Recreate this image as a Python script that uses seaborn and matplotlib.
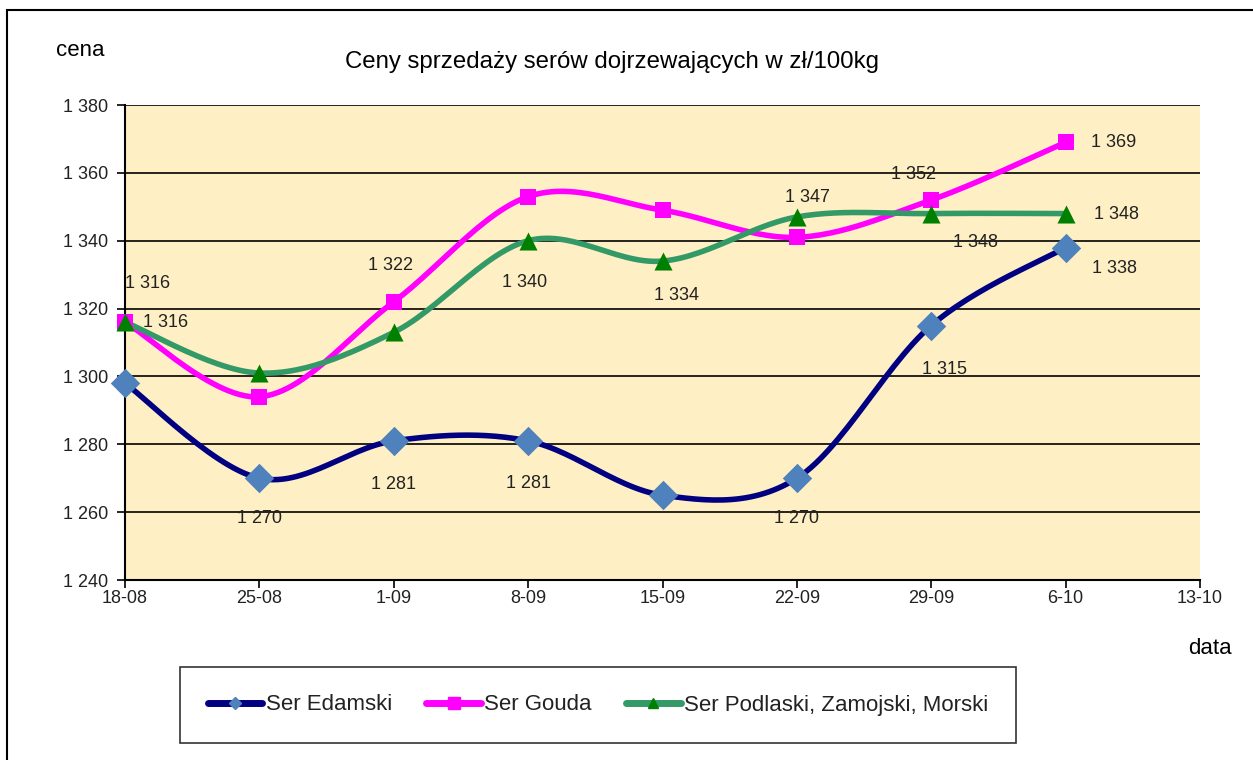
import numpy as np
import pandas as pd
import matplotlib
matplotlib.use("Agg")
import matplotlib.pyplot as plt
import seaborn as sns
from matplotlib.patches import Rectangle
from matplotlib.lines import Line2D

# --- DATI ---
dates = ["18-08", "25-08", "1-09", "8-09", "15-09", "22-09", "29-09", "6-10", "13-10"]
edamski = [1298, 1270, 1281, 1281, 1265, 1270, 1315, 1338]
gouda = [1316, 1294, 1322, 1353, 1349, 1341, 1352, 1369]
podlaski = [1316, 1301, 1313, 1340, 1334, 1347, 1348, 1348]
series_names = ["Ser Edamski", "Ser Gouda", "Ser Podlaski, Zamojski, Morski"]

# etichette visibili: (indice, offset in pixel)
labels_edamski = [(1, (0, -40)), (2, (0, -44)), (3, (0, -43)), (5, (0, -40)), (6, (13, -44)), (7, (49, -21))]
labels_gouda = [(0, (23, 39)), (2, (-3, 36)), (6, (-18, 26)), (7, (48, 0))]
labels_podlaski = [(0, (41, 0)), (3, (-4, -42)), (4, (14, -34)), (5, (11, 19)), (6, (44, -29)), (7, (51, -1))]

# --- STILE ---
sns.set_style("white")
plt.rcParams["font.family"] = ["Liberation Sans", "DejaVu Sans"]
TXT = "#222222"


def smooth(y, n=30):
    # curva tipo Excel (Catmull-Rom / Bezier)
    x = np.arange(len(y), dtype=float)
    y = np.asarray(y, dtype=float)
    px = np.concatenate([[x[0]], x, [x[-1]]])
    py = np.concatenate([[y[0]], y, [y[-1]]])
    xs, ys = [], []
    t = np.linspace(0, 1, n)
    for i in range(1, len(px) - 2):
        p0 = np.array([px[i], py[i]])
        p3 = np.array([px[i + 1], py[i + 1]])
        c1 = p0 + (np.array([px[i + 1], py[i + 1]]) - np.array([px[i - 1], py[i - 1]])) / 6
        c2 = p3 - (np.array([px[i + 2], py[i + 2]]) - np.array([px[i], py[i]])) / 6
        b = ((1 - t) ** 3)[:, None] * p0 + (3 * (1 - t) ** 2 * t)[:, None] * c1 \
            + (3 * (1 - t) * t ** 2)[:, None] * c2 + (t ** 3)[:, None] * p3
        xs.extend(b[:, 0])
        ys.extend(b[:, 1])
    return np.array(xs), np.array(ys)


fig = plt.figure(figsize=(12.53, 7.6), dpi=100)
ax = fig.add_axes([125 / 1253, 1 - 580 / 760, 1075 / 1253, 475 / 760])
ax.set_facecolor("#FFEFC4")

styles = [
    (edamski, "#000080", "D", "#4F81BD", 15, 6, labels_edamski),
    (gouda, "#FF00FF", "s", "#FF00FF", 12, 9, labels_gouda),
    (podlaski, "#339966", "^", "#008000", 13, 7, labels_podlaski),
]

handles = []
for name, (vals, lc, mk, mc, ms, lms, labs) in zip(series_names, styles):
    sx, sy = smooth(vals)
    curve = pd.DataFrame({"x": sx, "y": sy})
    sns.lineplot(data=curve, x="x", y="y", sort=False, estimator=None,
                 color=lc, lw=4, ax=ax, zorder=3)
    pts = pd.DataFrame({"x": np.arange(len(vals)), "y": vals})
    sns.scatterplot(data=pts, x="x", y="y", marker=mk, color=mc, s=ms ** 2,
                    edgecolor=mc, linewidth=0, ax=ax, zorder=4, clip_on=False)
    for i, off in labs:
        ax.annotate(f"{vals[i] // 1000} {vals[i] % 1000:03d}", (i, vals[i]),
                    xytext=off, textcoords="offset pixels",
                    ha="center", va="center", fontsize=13, color=TXT, zorder=5)
    handles.append(Line2D([], [], color=lc, lw=5, marker=mk, markersize=lms,
                          markerfacecolor=mc, markeredgecolor=mc))

ax.set_xlim(0, len(dates) - 1)
ax.set_ylim(1240, 1380)
ax.set_xticks(range(len(dates)))
ax.set_xticklabels(dates)
ax.set_yticks(range(1240, 1381, 20))
ax.set_yticklabels([f"1 {v % 1000:03d}" for v in range(1240, 1381, 20)])
ax.tick_params(axis="both", labelsize=13, colors="black", labelcolor=TXT,
               direction="out", length=6, width=1.2, left=True, bottom=True)
ax.tick_params(axis="y", pad=6)
ax.tick_params(axis="x", pad=1)
ax.yaxis.grid(True, color="black", lw=1.2)
ax.set_axisbelow(True)
ax.set_xlabel("")
ax.set_ylabel("")
for s in ["top", "right"]:
    ax.spines[s].set_visible(False)
for s in ["left", "bottom"]:
    ax.spines[s].set_color("black")
    ax.spines[s].set_linewidth(1.5)

fig.text(612 / 1253, 1 - 62 / 760, "Ceny sprzedaży serów dojrzewających w zł/100kg",
         ha="center", va="center", fontsize=17.3, color="black")
fig.text(80 / 1253, 1 - 50 / 760, "cena", ha="center", va="center", fontsize=16, color="black")
fig.text(1210 / 1253, 1 - 648 / 760, "data", ha="center", va="center", fontsize=16, color="black")

# legenda
leg = fig.legend(handles, series_names, loc="center",
                 bbox_to_anchor=(598 / 1253, 1 - 705 / 760), ncol=3, frameon=True,
                 fontsize=16, handlelength=2.45, handletextpad=0.15, columnspacing=1.55,
                 borderpad=1.25, borderaxespad=0, fancybox=False, edgecolor="black")
leg.get_frame().set_linewidth(1.2)
for t in leg.get_texts():
    t.set_color(TXT)

# cornice esterna
fig.patches.append(Rectangle((7 / 1253, -0.1), 1.2, 1 - 10 / 760 + 0.1,
                             transform=fig.transFigure, fill=False,
                             edgecolor="black", lw=1.5))

fig.savefig("out.png", dpi=100)
